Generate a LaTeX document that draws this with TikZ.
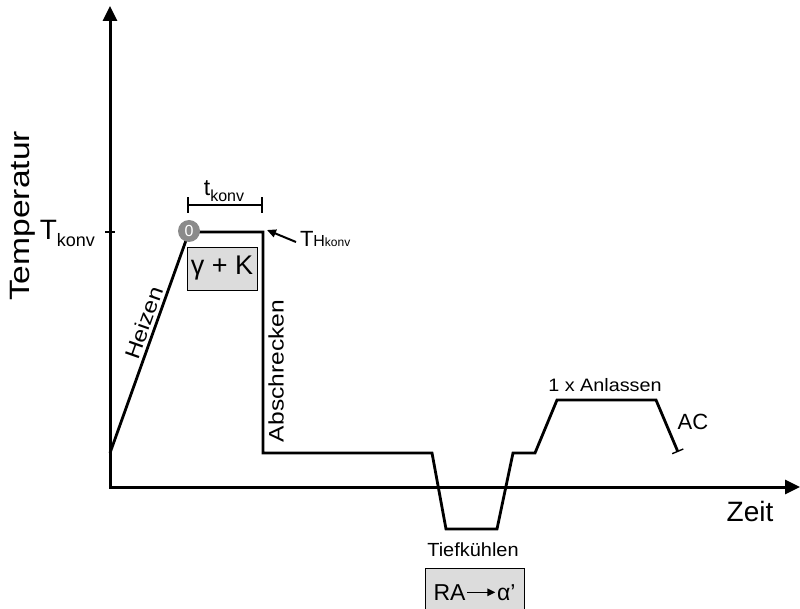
\documentclass[tikz,border=0pt]{standalone}
\usepackage{fontspec}
\setmainfont{Liberation Sans}
\usetikzlibrary{arrows.meta}
\newcommand{\fsz}[1]{\fontsize{#1}{#1}\selectfont}
\newcommand{\sx}[2]{\scalebox{#1}[1]{#2}}
\newcommand{\boldarrow}{\raisebox{4.2pt}{\tikz[x=1pt,y=1pt]\draw[line width=1.6pt,-{Triangle[length=8pt,width=7.5pt]}] (0,0) -- (28,0);}}
\definecolor{boxgray}{HTML}{DCDCDC}
\definecolor{dotgray}{HTML}{8A8A8A}
\begin{document}
\begin{tikzpicture}[x=1pt,y=-1pt,
  axis/.style={line width=3pt, {Triangle[length=15pt,width=14pt]}-{Triangle[length=15pt,width=14pt]}},
  curve/.style={line width=2.8pt, line join=miter},
  thin/.style={line width=1.3pt},
  lbl/.style={inner sep=0pt, outer sep=0pt},
  greybox/.style={draw=black, line width=0.9pt, fill=boxgray, inner sep=0pt}]
\useasboundingbox (0,0) rectangle (800,609);

% axes
\coordinate (ytip) at (110,6);
\coordinate (O) at (110,487);
\coordinate (xtip) at (800,487);
\draw[axis] (ytip) -- (O) -- (xtip);
\coordinate (tk1) at (105,232);
\coordinate (tk2) at (115,232);
\draw[thin] (tk1) -- (tk2);

% temperature curve
\coordinate (p0) at (110,453);
\coordinate (p1) at (189,232);
\coordinate (p2) at (263,232);
\coordinate (p3) at (263,453);
\coordinate (p4) at (432,453);
\coordinate (p5) at (446,529);
\coordinate (p6) at (497,529);
\coordinate (p7) at (513,453);
\coordinate (p8) at (535,453);
\coordinate (p9) at (557,400);
\coordinate (p10) at (656,400);
\coordinate (p11) at (678,452);
\draw[curve, -{Bar[width=12pt,line width=1.4pt]}] (p0) -- (p1) -- (p2) -- (p3) -- (p4) -- (p5) -- (p6) -- (p7) -- (p8) -- (p9) -- (p10) -- (p11);

% start marker
\node[circle, fill=dotgray, minimum size=22pt, inner sep=0pt, text=white, font=\fsz{16}] (c0) at (189,231) {0};

% holding time bracket
\coordinate (b1) at (188,205);
\coordinate (b2) at (262,205);
\draw[thin] (b1) -- (b2);
\draw[thin] ([yshift=-8pt]b1) -- ([yshift=8pt]b1);
\draw[thin] ([yshift=-8pt]b2) -- ([yshift=8pt]b2);
\node[lbl, anchor=base] (tk) at (224,196) {\fsz{23}t\raisebox{-0.22em}{\fsz{16}konv}};

% gamma + K box
\node[greybox, minimum width=70pt, minimum height=43pt, font=\fsz{27}] (gk) at (222,268.5) {γ + K};

% T_H konv
\node[lbl, anchor=base west] (th) at (300,247) {\fsz{22}T{\fsz{16}H}{\fsz{12}konv}};
\coordinate (tha) at (296,242);
\coordinate (thb) at (267,230);
\draw[line width=2pt, -{Triangle[length=9pt,width=8pt]}] (tha) -- (thb);

% axis labels
\node[lbl, rotate=90, font=\fsz{28}] (temp) at (23,216) {\sx{1.2}{Temperatur}};
\node[lbl, anchor=base east] (tkonv) at (95,240) {\fsz{28}T\raisebox{-0.25em}{\fsz{18}konv}};
\node[lbl, font=\fsz{28}] (zeit) at (750,511) {Zeit};

% process labels
\node[lbl, rotate=70.6, font=\fsz{21}] (heiz) at (144,323) {\sx{1.15}{Heizen}};
\node[lbl, rotate=90, font=\fsz{21}] (absch) at (276,371) {\sx{1.17}{Abschrecken}};
\node[lbl, font=\fsz{18}] (anl) at (605,385) {\sx{1.1}{1 x Anlassen}};
\node[lbl, font=\fsz{22}] (ac) at (693,422) {AC};
\node[lbl, font=\fsz{19}] (tief) at (473,550) {\sx{1.05}{Tiefkühlen}};
\node[greybox, anchor=north, minimum width=99pt, minimum height=48pt, font=\fsz{23}] (ra) at (474.5,568) {RA\kern1pt\boldarrow\kern1pt α\symbol{"27}};
\end{tikzpicture}
\end{document}
